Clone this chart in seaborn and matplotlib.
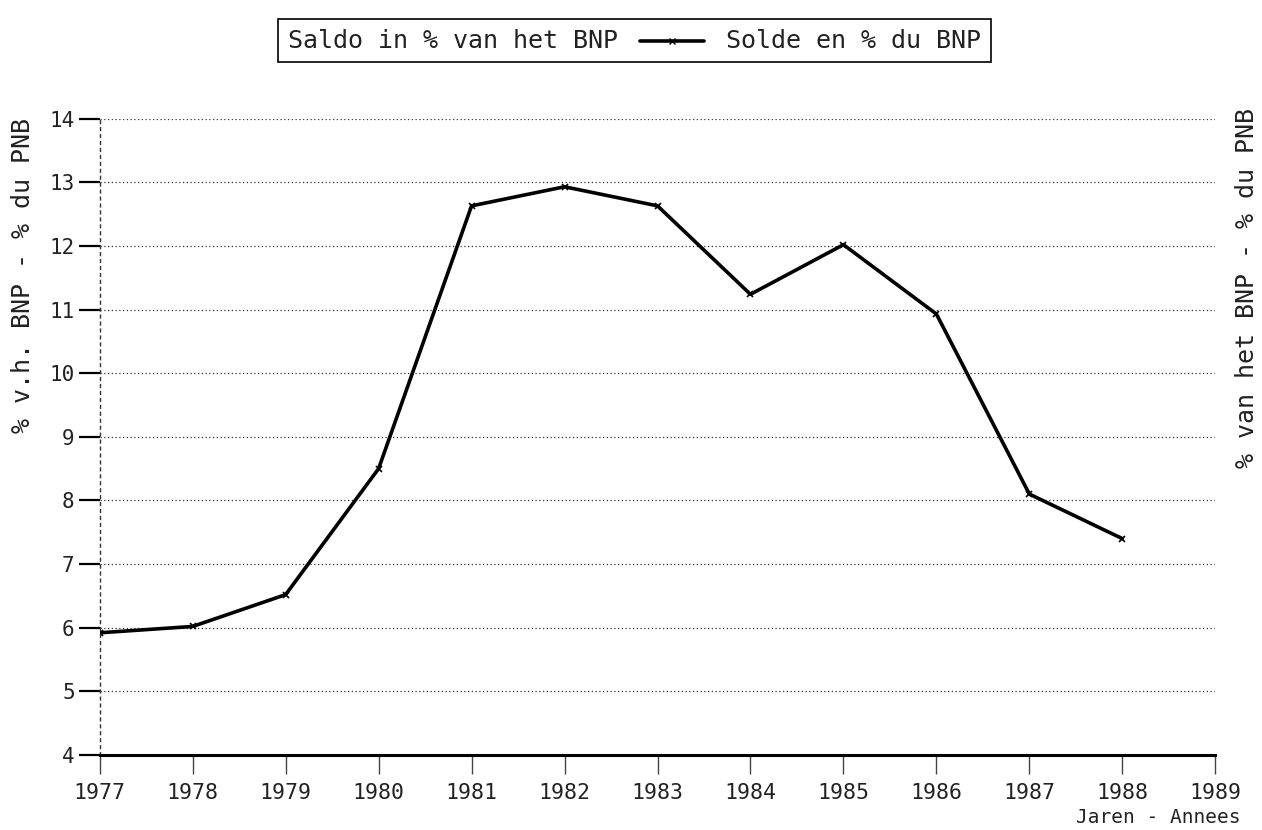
import pandas as pd
import matplotlib.pyplot as plt
import seaborn as sns
from matplotlib.lines import Line2D
from matplotlib.offsetbox import TextArea, DrawingArea, HPacker, AnchoredOffsetbox

# data
years = [1977, 1978, 1979, 1980, 1981, 1982, 1983, 1984, 1985, 1986, 1987, 1988]
saldo = [5.92, 6.02, 6.52, 8.50, 12.63, 12.93, 12.63, 11.24, 12.02, 10.93, 8.10, 7.40]
x_ticks = list(range(1977, 1990))
y_ticks = list(range(4, 15))

df = pd.DataFrame({'jaar': years, 'saldo': saldo})

sns.set_style('white')
plt.rcParams['font.family'] = ['DejaVu Sans Mono']

fig = plt.figure(figsize=(12.62, 8.30), dpi=100)
ax = fig.add_axes([0.079, 0.0904, 0.884, 0.7666])

sns.lineplot(data=df, x='jaar', y='saldo', ax=ax, color='black', linewidth=2.6,
             marker='x', markersize=5, markeredgewidth=1.2, markeredgecolor='black')

ax.set_xlim(1977, 1989)
ax.set_ylim(4, 14)
ax.set_xticks(x_ticks)
ax.set_yticks(y_ticks)
ax.set_xticklabels([str(t) for t in x_ticks], fontsize=15.5, color='#222222')
ax.set_yticklabels([str(t) for t in y_ticks], fontsize=15, color='#222222')
ax.tick_params(axis='y', left=True, direction='out', length=15, width=1.6, color='black', pad=3)
ax.tick_params(axis='x', bottom=True, direction='out', length=14, width=1.0, color='#444444', pad=6)
for t in ax.xaxis.get_ticklines():
    t.set_linestyle((0, (2, 2)))

# dotted horizontal grid
for v in y_ticks[1:]:
    ax.axhline(v, color='#333333', linestyle=(0, (1, 2)), linewidth=0.9, zorder=0)

for s in ['top', 'right']:
    ax.spines[s].set_visible(False)
ax.spines['left'].set_linestyle((0, (2, 3)))
ax.spines['left'].set_linewidth(1.0)
ax.spines['left'].set_color('#333333')
ax.spines['bottom'].set_linewidth(2.2)
ax.spines['bottom'].set_color('black')

ax.set_xlabel('')
ax.set_ylabel('')
fig.text(0.018, 0.668, '% v.h. BNP - % du PNB', rotation=90, ha='center', va='center',
         fontsize=18, color='#222222')
fig.text(0.988, 0.653, '% van het BNP - % du PNB', rotation=90, ha='center', va='center',
         fontsize=18, color='#222222')
fig.text(0.983, 0.004, 'Jaren - Annees', ha='right', va='bottom', fontsize=14, color='#222222')

# legend box: text, line sample, text
t1 = TextArea('Saldo in % van het BNP', textprops=dict(fontsize=18, color='#222222'))
da = DrawingArea(46, 12, 0, 0)
da.add_artist(Line2D([0, 46], [6, 6], color='black', linewidth=2.6))
da.add_artist(Line2D([23], [6], color='black', marker='x', markersize=5))
t2 = TextArea('Solde en % du BNP', textprops=dict(fontsize=18, color='#222222'))
box = HPacker(children=[t1, da, t2], align='center', pad=0, sep=16)
anch = AnchoredOffsetbox(loc='center', child=box, pad=0.7, frameon=True,
                         bbox_to_anchor=(0.503, 0.951), bbox_transform=fig.transFigure,
                         borderpad=0)
anch.patch.set_edgecolor('black')
anch.patch.set_linewidth(1.2)
fig.add_artist(anch)

plt.savefig('out.png', dpi=100)
